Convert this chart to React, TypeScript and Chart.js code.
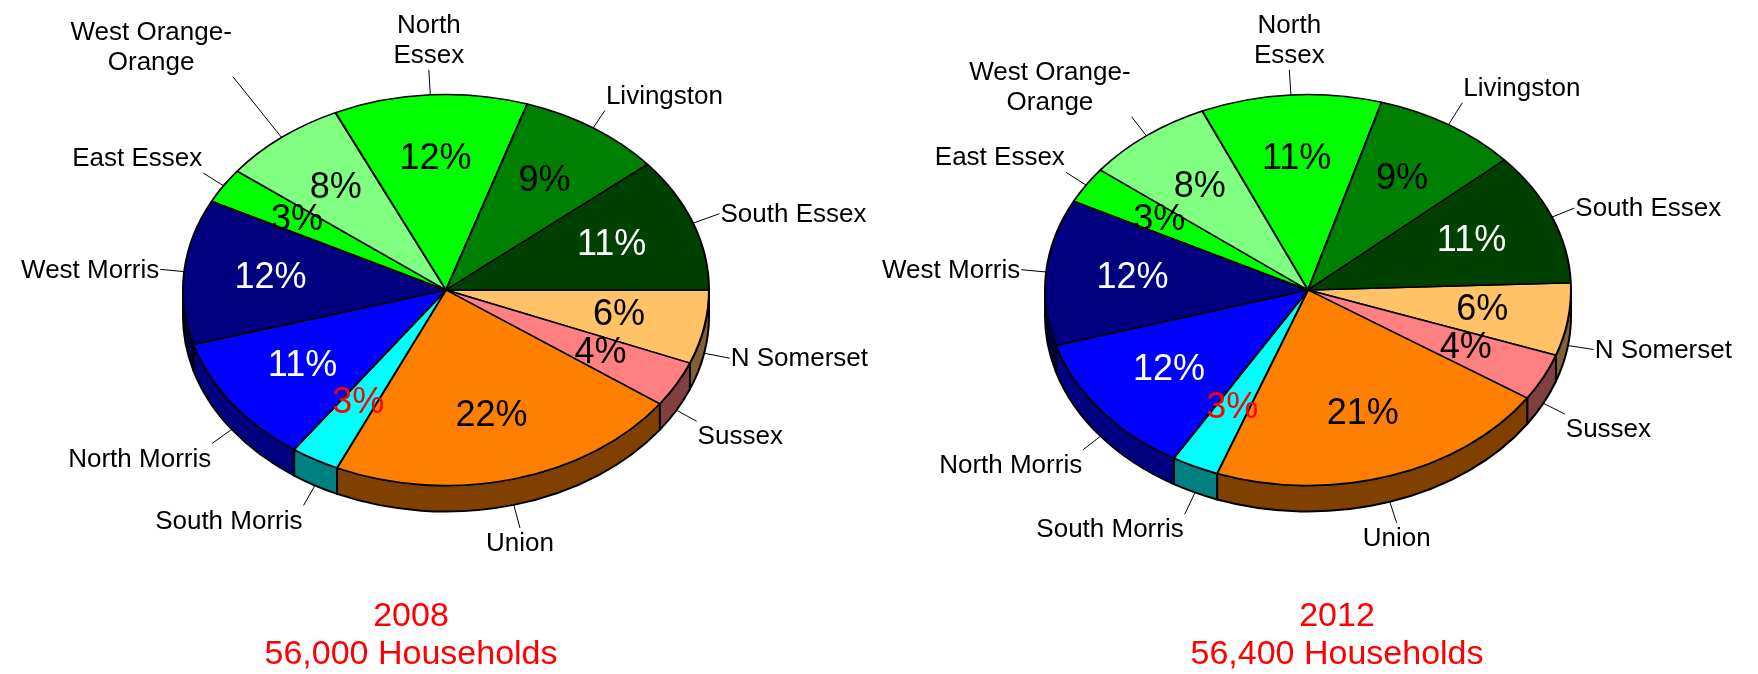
import React, { useEffect, useRef } from 'react';
import { Chart, registerables } from 'chart.js';

Chart.register(...registerables);
Chart.defaults.font.family = "'Liberation Sans', Arial, sans-serif";

// ---- data ----
const categories: (string | string[])[] = [
  'N Somerset',
  'Sussex',
  'Union',
  'South Morris',
  'North Morris',
  'West Morris',
  'East Essex',
  ['West Orange-', 'Orange'],
  ['North', 'Essex'],
  'Livingston',
  'South Essex',
];
const values2008 = [6.1, 3.8, 21.9, 3.0, 10.7, 12.0, 2.9, 7.7, 11.9, 8.9, 11.1];
const values2012 = [6.0, 3.9, 21.3, 2.9, 11.9, 12.1, 3.0, 7.9, 11.1, 8.9, 11.0];
const title2008 = ['2008', '56,000 Households'];
const title2012 = ['2012', '56,400 Households'];

// ---- styles ----
const topColors = ['#FFC266', '#FF8080', '#FF8000', '#00FFFF', '#0000FF', '#000080', '#00FF00', '#80FF80', '#00FF00', '#008000', '#004000'];
const sideColors = ['#806133', '#804040', '#804000', '#008080', '#000080', '#000040', '#008000', '#408040', '#008000', '#004000', '#002000'];
const pctColors = ['#000000', '#000000', '#000000', '#FF0000', '#FFFFFF', '#FFFFFF', '#000000', '#000000', '#000000', '#000000', '#FFFFFF'];
const leaders2008 = [26, 23, 24, 23, 24, 24, 24, 78, 25, 21, 28];
const leaders2012 = [26, 24, 22, 24, 22, 25, 24, 24, 25, 26, 24];

const FONT = "'Liberation Sans', Arial, sans-serif";
const TILT = 195.5 / 263;
const DEPTH = 26;

function makePiePlugin(shiftX: number, leaders: number[]) {
  return {
    id: 'pie3d',
    beforeDatasetsDraw(chart: any) {
      const ctx = chart.ctx as CanvasRenderingContext2D;
      const meta = chart.getDatasetMeta(0);
      ctx.save();
      meta.data.forEach((arc: any, i: number) => {
        const { x, y, startAngle, endAngle, outerRadius } = arc.getProps(['x', 'y', 'startAngle', 'endAngle', 'outerRadius'], true);
        const cx = x + shiftX;
        const R = outerRadius;
        const Ry = R * TILT;
        for (let m = -1; m <= 1; m++) {
          const lo = Math.max(startAngle, m * 2 * Math.PI);
          const hi = Math.min(endAngle, m * 2 * Math.PI + Math.PI);
          if (hi - lo <= 1e-6) continue;
          ctx.beginPath();
          ctx.ellipse(cx, y, R, Ry, 0, lo, hi, false);
          ctx.lineTo(cx + R * Math.cos(hi), y + Ry * Math.sin(hi) + DEPTH);
          ctx.ellipse(cx, y + DEPTH, R, Ry, 0, hi, lo, true);
          ctx.closePath();
          ctx.fillStyle = sideColors[i];
          ctx.fill();
          ctx.lineWidth = 2;
          ctx.lineJoin = 'round';
          ctx.strokeStyle = '#000000';
          ctx.stroke();
        }
      });
      ctx.restore();
      const a0 = meta.data[0];
      ctx.save();
      ctx.translate(a0.x + shiftX, a0.y);
      ctx.scale(1, TILT);
      ctx.translate(-a0.x, -a0.y);
    },
    afterDatasetsDraw(chart: any) {
      const ctx = chart.ctx as CanvasRenderingContext2D;
      ctx.restore();
      const meta = chart.getDatasetMeta(0);
      const data: number[] = chart.data.datasets[0].data;
      const labels = chart.data.labels;
      const total = data.reduce((a, b) => a + b, 0);
      ctx.save();
      meta.data.forEach((arc: any, i: number) => {
        const { x, y, startAngle, endAngle, outerRadius } = arc.getProps(['x', 'y', 'startAngle', 'endAngle', 'outerRadius'], true);
        const cx = x + shiftX;
        const R = outerRadius;
        const Ry = R * TILT;
        const mid = (startAngle + endAngle) / 2;
        const c = Math.cos(mid);
        const s = Math.sin(mid);
        // percentage
        ctx.font = `36px ${FONT}`;
        ctx.textAlign = 'center';
        ctx.textBaseline = 'middle';
        ctx.fillStyle = pctColors[i];
        ctx.fillText(Math.round((data[i] / total) * 100) + '%', cx + 0.67 * R * c, y + 0.67 * Ry * s);
        // leader
        const ax = cx + R * c;
        const ay = y + Ry * s + (s > 0 ? DEPTH : 0);
        const L = leaders[i];
        const ex = ax + L * c;
        const ey = ay + L * s;
        ctx.beginPath();
        ctx.moveTo(ax, ay);
        ctx.lineTo(ex, ey);
        ctx.lineWidth = 1;
        ctx.strokeStyle = '#000000';
        ctx.stroke();
        // category label
        const raw = labels[i];
        const lines: string[] = Array.isArray(raw) ? raw : [String(raw)];
        ctx.font = `26px ${FONT}`;
        const bw = Math.max(...lines.map((l) => ctx.measureText(l).width));
        const lh = 30;
        const bh = lines.length * lh;
        let left: number;
        if (c > 0.35) left = ex + 1;
        else if (c < -0.35) left = ex - 1 - bw;
        else left = ex - bw / 2;
        let top: number;
        if (s > 0.42) top = ey;
        else if (s < -0.42) top = ey - bh;
        else top = ey - bh / 2;
        ctx.fillStyle = '#000000';
        ctx.textAlign = 'center';
        ctx.textBaseline = 'middle';
        lines.forEach((ln, j) => {
          ctx.fillText(ln, left + bw / 2, top + j * lh + lh / 2 + 1);
        });
      });
      ctx.restore();
    },
  };
}

function makeChart(
  canvas: HTMLCanvasElement,
  values: number[],
  title: string[],
  rotation: number,
  padLeft: number,
  padRight: number,
  shiftX: number,
  leaders: number[]
) {
  return new Chart(canvas, {
    type: 'pie',
    data: {
      labels: categories as any,
      datasets: [
        {
          data: values,
          backgroundColor: topColors,
          borderColor: '#000000',
          borderWidth: 2,
          radius: 263,
          rotation,
          clip: false,
        } as any,
      ],
    },
    options: {
      responsive: false,
      animation: false,
      events: [],
      rotation,
      layout: { padding: { left: padLeft, right: padRight, top: 0, bottom: 0 } },
      plugins: {
        legend: { display: false },
        tooltip: { enabled: false },
        title: {
          display: true,
          position: 'bottom',
          text: title,
          color: '#FF0000',
          font: { size: 34, weight: 'normal', lineHeight: 38 / 34, family: FONT },
          padding: { top: 18, bottom: 0 },
        },
      },
    } as any,
    plugins: [makePiePlugin(shiftX, leaders) as any],
  });
}

export default function App() {
  const leftRef = useRef<HTMLCanvasElement>(null);
  const rightRef = useRef<HTMLCanvasElement>(null);

  useEffect(() => {
    const c1 = makeChart(leftRef.current!, values2008, title2008, 90, 0, 58, 35, leaders2008);
    const c2 = makeChart(rightRef.current!, values2012, title2012, 87.9, 56, 0, -29, leaders2012);
    return () => {
      c1.destroy();
      c2.destroy();
    };
  }, []);

  return (
    <div style={{ position: 'absolute', left: 0, top: 0, width: 1758, height: 674, background: '#ffffff', overflow: 'hidden' }}>
      <canvas ref={leftRef} width={880} height={674} style={{ position: 'absolute', left: 0, top: 0 }} />
      <canvas ref={rightRef} width={898} height={674} style={{ position: 'absolute', left: 860, top: 0 }} />
    </div>
  );
}
